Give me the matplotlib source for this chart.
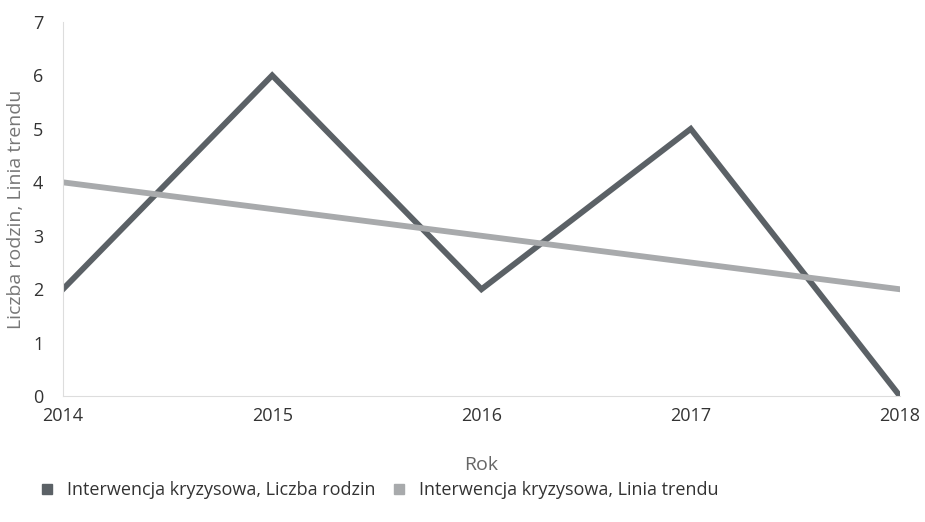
import matplotlib.pyplot as plt
from matplotlib.lines import Line2D

plt.rcParams['font.family'] = ['Open Sans', 'DejaVu Sans']

# Daten
lata = [2014, 2015, 2016, 2017, 2018]
liczba_rodzin = [2, 6, 2, 5, 0]
linia_trendu = [4, 3.5, 3, 2.5, 2]

kolor_ciemny = '#5b6166'
kolor_jasny = '#a8aaac'

fig = plt.figure(figsize=(9.25, 5.22), dpi=100)
ax = fig.add_axes([0.068, 0.241, 0.905, 0.717])

ax.plot(lata, liczba_rodzin, color=kolor_ciemny, linewidth=4.2, solid_joinstyle='miter')
ax.plot(lata, linia_trendu, color=kolor_jasny, linewidth=4.2)

ax.set_xlim(2014, 2018)
ax.set_ylim(0, 7)
ax.set_xticks(lata)
ax.set_yticks(range(0, 8))

for s in ['top', 'right']:
    ax.spines[s].set_visible(False)
ax.spines['left'].set_color('#dddddd')
ax.spines['bottom'].set_color('#dddddd')
ax.tick_params(length=0, labelsize=13, colors='#333333')
ax.tick_params(axis='x', pad=8)
ax.tick_params(axis='y', pad=14)

ax.set_xlabel('Rok', fontsize=14, color='#666666', labelpad=22)
ax.set_ylabel('Liczba rodzin, Linia trendu', fontsize=14, color='#777777', labelpad=6)

uchwyty = [
    Line2D([], [], marker='s', linestyle='none', markersize=7, color=kolor_ciemny),
    Line2D([], [], marker='s', linestyle='none', markersize=7, color=kolor_jasny),
]
fig.legend(uchwyty, ['Interwencja kryzysowa, Liczba rodzin', 'Interwencja kryzysowa, Linia trendu'],
           loc='center left', bbox_to_anchor=(0.014, 0.061), ncol=2, frameon=False,
           fontsize=13, handletextpad=0.1, columnspacing=0.3, labelcolor='#333333')

fig.savefig('out.png', dpi=100)
